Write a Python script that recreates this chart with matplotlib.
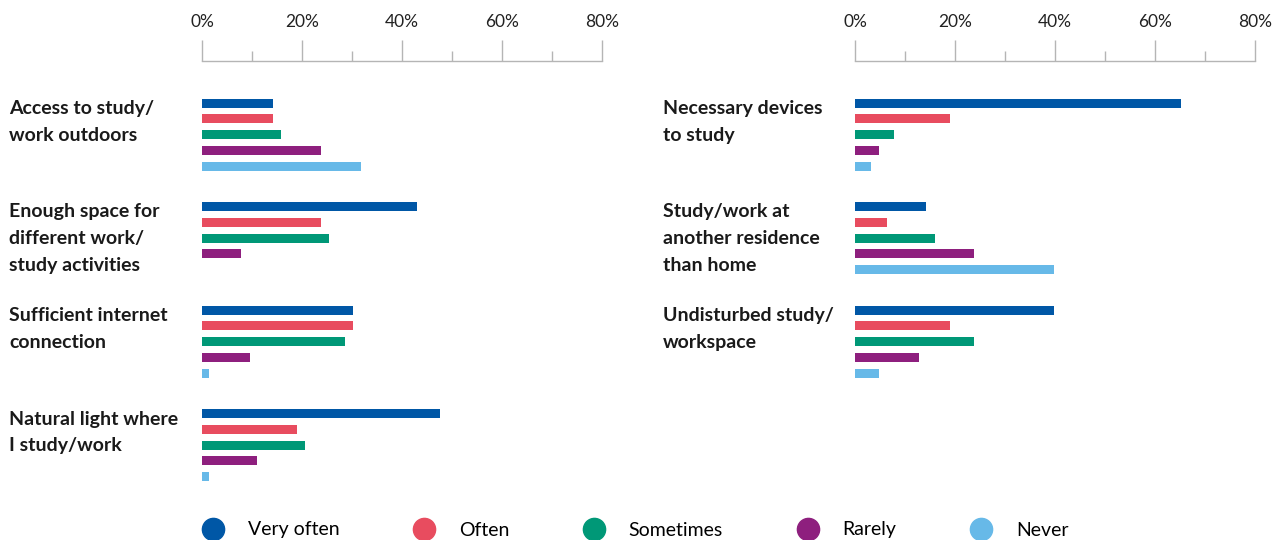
import matplotlib.pyplot as plt
from matplotlib.lines import Line2D
import numpy as np

plt.rcParams['font.family'] = ['Lato', 'DejaVu Sans']

levels = ["Very often", "Often", "Sometimes", "Rarely", "Never"]
colors = ["#0057a6", "#e84c5f", "#009877", "#8e1f7e", "#67b9e8"]

left_items = ["Access to study/\nwork outdoors",
              "Enough space for\ndifferent work/\nstudy activities",
              "Sufficient internet\nconnection",
              "Natural light where\nI study/work"]
left_values = [[14.2, 14.2, 15.8, 23.8, 31.8],
               [43.0, 23.8, 25.4, 7.8, 0.0],
               [30.2, 30.2, 28.6, 9.6, 1.4],
               [47.6, 19.0, 20.6, 11.0, 1.4]]

right_items = ["Necessary devices\nto study",
               "Study/work at\nanother residence\nthan home",
               "Undisturbed study/\nworkspace"]
right_values = [[65.2, 19.0, 7.8, 4.8, 3.2],
                [14.2, 6.4, 16.0, 23.8, 39.8],
                [39.8, 19.0, 23.8, 12.8, 4.8]]

W, H = 1287, 540
fig = plt.figure(figsize=(W / 100, H / 100), dpi=100)

top_px, bot_px = 61, 490
group_gap, bar_gap, bar_h = 103.5, 15.8, 9


def panel(x0, label_x, items, values):
    ax = fig.add_axes([x0 / W, 1 - bot_px / H, 400 / W, (bot_px - top_px) / H])
    for g, vals in enumerate(values):
        base = 42 + g * group_gap
        for i, v in enumerate(vals):
            if v > 0:
                ax.barh(base + i * bar_gap, v, height=bar_h, color=colors[i])
        ax.text(label_x, base - 3, items[g], transform=ax.transData,
                ha='left', va='top', fontsize=14, fontweight='bold',
                color='#1a1a1a', linespacing=1.68, clip_on=False)
    ax.set_xlim(0, 80)
    ax.set_ylim(bot_px - top_px, 0)
    for s in ['left', 'right', 'bottom']:
        ax.spines[s].set_visible(False)
    ax.spines['top'].set_color('#b5b5b5')
    ax.spines['top'].set_linewidth(1)
    ax.xaxis.tick_top()
    ax.set_xticks(np.arange(0, 81, 20))
    ax.set_xticks(np.arange(10, 80, 20), minor=True)
    ax.set_xticklabels([f"{t}%" for t in range(0, 81, 20)])
    ax.tick_params(axis='x', which='major', length=15, width=1, color='#b5b5b5',
                   pad=7.5, labelsize=12.5, labelcolor='#222222')
    ax.tick_params(axis='x', which='minor', length=7.5, width=1, color='#b5b5b5')
    ax.set_yticks([])
    return ax


axl = panel(202, -193 * 80 / 400, left_items, left_values)
axr = panel(855, -192 * 80 / 400, right_items, right_values)

handles = [Line2D([], [], marker='o', linestyle='none', markersize=16,
                  markerfacecolor=c, markeredgecolor=c) for c in colors]
fig.legend(handles, levels, loc='center left', bbox_to_anchor=(196 / W, 1 - 530 / H),
           ncol=5, frameon=False, fontsize=14, handletextpad=1.35,
           columnspacing=3.9, handlelength=0.9, borderaxespad=0)

fig.savefig("out.png", dpi=100)
